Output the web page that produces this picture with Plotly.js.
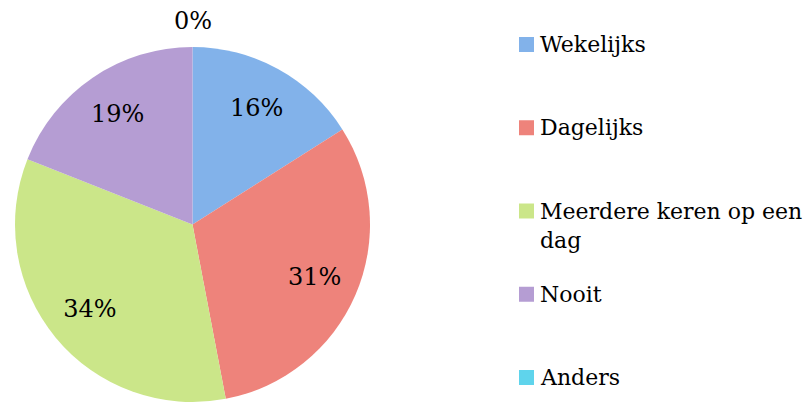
<!DOCTYPE html>
<html><head><meta charset="utf-8">
<script src="https://cdn.plot.ly/plotly-3.0.1.min.js"></script>
<style>html,body{margin:0;padding:0;background:#fff}#chart{width:809px;height:405px}</style>
</head><body><div id="chart"></div>
<script>
const labels = ["Wekelijks", "Dagelijks", "Meerdere keren op een dag", "Nooit", "Anders"];
const values = [16, 31, 34, 19, 0];
const colors = ["#82b2ea", "#ee837b", "#cbe689", "#b59dd3", "#5fd4ec"];

const W = 809, H = 405;
const px = v => v / W, py = v => 1 - v / H;
const pieDomain = {x: [px(13), px(372)], y: [py(402), py(47)]};
const total = values.reduce((a, b) => a + b, 0);

// filled pie
const pie = {
  type: "pie", labels: labels, values: values, sort: false,
  direction: "clockwise", rotation: 0,
  marker: {colors: colors, line: {width: 0}},
  textinfo: "none", showlegend: false, hoverinfo: "label+percent",
  domain: pieDomain
};
// transparent ring carrying the percentage labels (centred in the outer band)
const labelRing = {
  type: "pie", labels: labels, values: values, sort: false,
  direction: "clockwise", rotation: 0, hole: 0.5,
  marker: {colors: labels.map(() => "rgba(0,0,0,0)"), line: {width: 0}},
  texttemplate: "%{percent:.0%}",
  textposition: values.map(v => v > 0 ? "inside" : "none"),
  insidetextorientation: "horizontal",
  textfont: {family: "DejaVu Serif", size: 24, color: "#000"},
  showlegend: false, hoverinfo: "skip",
  domain: pieDomain
};

function wrap(s, n) {
  const words = s.split(" ");
  const lines = [];
  let cur = "";
  words.forEach(w => {
    if (cur && (cur + " " + w).length > n) { lines.push(cur); cur = w; }
    else cur = cur ? cur + " " + w : w;
  });
  if (cur) lines.push(cur);
  return lines.join("<br>");
}

const legendTop = 37, legendStep = 83.25, box = 15;
const shapes = [], annotations = [];
labels.forEach((lab, i) => {
  const top = legendTop + i * legendStep;
  shapes.push({type: "rect", xref: "paper", yref: "paper",
    x0: px(519), x1: px(519 + box), y0: py(top + box), y1: py(top),
    fillcolor: colors[i], line: {width: 0}});
  annotations.push({xref: "paper", yref: "paper", x: px(538), y: py(top - 7),
    xanchor: "left", yanchor: "top", align: "left", showarrow: false,
    text: wrap(lab, 21), font: {family: "DejaVu Serif", size: 22, color: "#000"}});
});
// zero-valued slice label sits just above the top of the pie
values.forEach((v, i) => {
  if (v === 0) {
    annotations.push({xref: "paper", yref: "paper",
      x: (pieDomain.x[0] + pieDomain.x[1]) / 2, y: pieDomain.y[1] + 0.025,
      xanchor: "center", yanchor: "bottom", showarrow: false,
      text: Math.round(100 * v / total) + "%",
      font: {family: "DejaVu Serif", size: 24, color: "#000"}});
  }
});

const layout = {
  width: W, height: H,
  margin: {l: 0, r: 0, t: 0, b: 0},
  paper_bgcolor: "#fff",
  showlegend: false,
  shapes: shapes,
  annotations: annotations
};

Plotly.newPlot("chart", [pie, labelRing], layout, {displayModeBar: false, staticPlot: true});
</script>
</body></html>
